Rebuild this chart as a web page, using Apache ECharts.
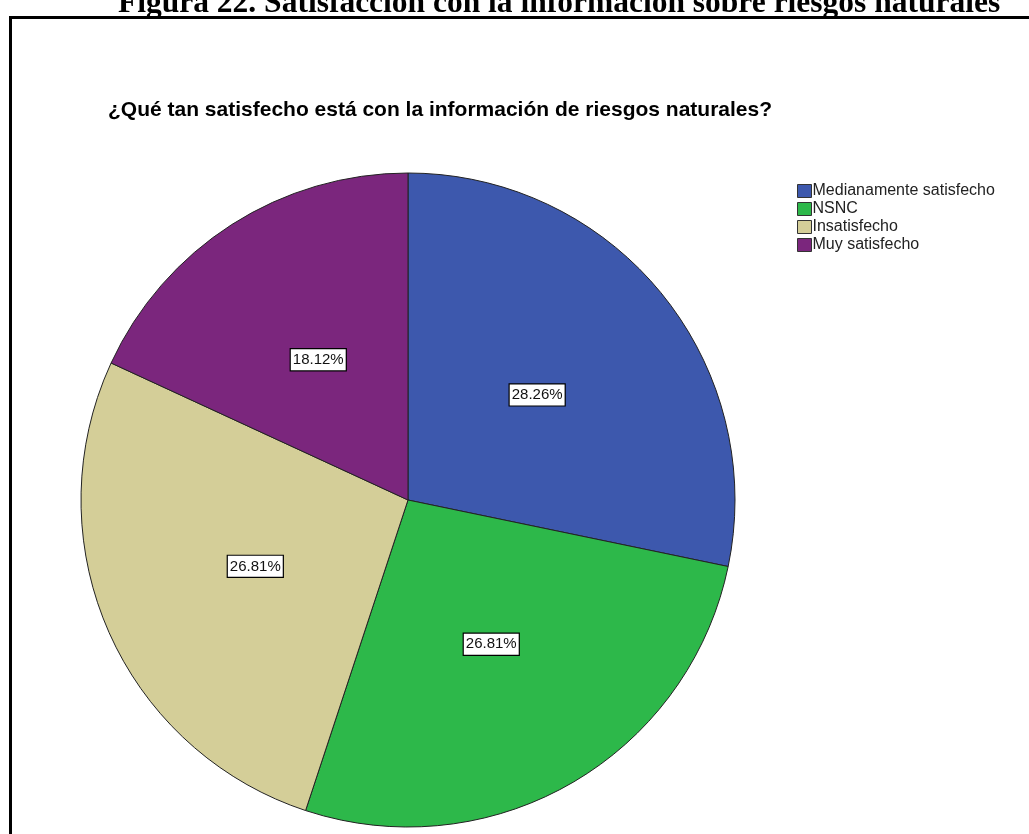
<!DOCTYPE html>
<html>
<head>
<meta charset="utf-8">
<script src="https://cdn.jsdelivr.net/npm/echarts@6/dist/echarts.min.js"></script>
<style>
html,body{margin:0;padding:0;background:#fff;}
#chart{width:1029px;height:834px;}
</style>
</head>
<body>
<div id="chart"></div>
<script>
// datos del gráfico
var categorias = ["Medianamente satisfecho", "NSNC", "Insatisfecho", "Muy satisfecho"];
var porcentajes = [28.26, 26.81, 26.81, 18.12];
var colores = ["#3d58ad", "#2db84a", "#d4ce98", "#7b267d"];

var chart = echarts.init(document.getElementById('chart'));

var datos = [];
for (var i = 0; i < categorias.length; i++) {
	datos.push({name: categorias[i], value: porcentajes[i], itemStyle: {color: colores[i]}});
}

var option = {
	animation: false,
	title: [
		{
			text: 'Figura 22. Satisfacción con la información sobre riesgos naturales',
			left: 113, top: -17,
			textStyle: {fontFamily: 'Liberation Serif', fontWeight: 'bold', fontSize: 31.5, color: '#000'}
		},
		{
			text: '¿Qué tan satisfecho está con la información de riesgos naturales?',
			left: 103, top: 95,
			textStyle: {fontFamily: 'Liberation Sans', fontWeight: 'bold', fontSize: 21, color: '#000'}
		}
	],
	graphic: [
		{type: 'rect', shape: {x: 10.5, y: 17.5, width: 1030, height: 830}, style: {fill: 'none', stroke: '#000', lineWidth: 3}}
	],
	legend: {
		orient: 'vertical',
		left: 792, top: 178,
		itemWidth: 14, itemHeight: 13, itemGap: 2,
		icon: 'rect',
		itemStyle: {borderColor: '#333', borderWidth: 1},
		textStyle: {fontFamily: 'Liberation Sans', fontSize: 16, color: '#222', padding: [0, 0, 0, -4]},
		data: categorias
	},
	series: [{
		type: 'pie',
		center: [408, 500],
		radius: 327,
		startAngle: 90,
		clockwise: true,
		data: datos,
		itemStyle: {borderColor: '#222', borderWidth: 1},
		label: {
			show: true,
			position: 'inside',
			formatter: function(p){ return p.value.toFixed(2) + '%'; },
			fontFamily: 'Liberation Sans', fontSize: 15, color: '#111',
			backgroundColor: '#fff', borderColor: '#000', borderWidth: 1.2,
			lineHeight: 16, padding: [3, 2, 2, 2]
		},
		labelLine: {show: false},
		emphasis: {disabled: true}
	}]
};
chart.setOption(option);
</script>
</body>
</html>
